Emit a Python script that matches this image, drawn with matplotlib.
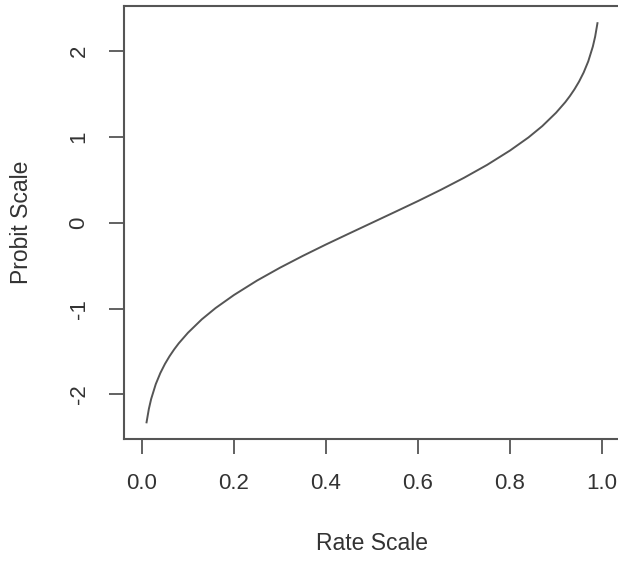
import matplotlib
matplotlib.use("Agg")
from matplotlib import pyplot as plt

# points (rate -> probit)
rate = [0.01, 0.015, 0.02, 0.03, 0.04, 0.05, 0.06, 0.07, 0.08, 0.10, 0.13,
        0.16, 0.20, 0.25, 0.30, 0.35, 0.40, 0.45, 0.50, 0.55, 0.60, 0.65,
        0.70, 0.75, 0.80, 0.84, 0.87, 0.90, 0.92, 0.93, 0.94, 0.95, 0.96,
        0.97, 0.98, 0.985, 0.99]
probit = [-2.326, -2.170, -2.054, -1.881, -1.751, -1.645, -1.555, -1.476,
          -1.405, -1.282, -1.126, -0.994, -0.842, -0.674, -0.524, -0.385,
          -0.253, -0.126, 0.0, 0.126, 0.253, 0.385, 0.524, 0.674, 0.842,
          0.994, 1.126, 1.282, 1.405, 1.476, 1.555, 1.645, 1.751, 1.881,
          2.054, 2.170, 2.326]

x_ticks = [0.0, 0.2, 0.4, 0.6, 0.8, 1.0]
x_labels = ["0.0", "0.2", "0.4", "0.6", "0.8", "1.0"]
y_ticks = [-2, -1, 0, 1, 2]
y_labels = ["-2", "-1", "0", "1", "2"]

plt.rcParams["font.family"] = ["Liberation Sans", "DejaVu Sans"]
ink = "#333333"

fig = plt.figure(figsize=(6.18, 5.61), dpi=100)
ax = fig.add_axes([124 / 618, 1 - 439 / 561, 496 / 618, 433 / 561])

ax.plot(rate, probit, color="#555555", lw=1.4)

ax.set_xlim(-0.039, 1.039)
ax.set_ylim(-2.52, 2.526)

ax.set_xticks(x_ticks)
ax.set_xticklabels(x_labels)
ax.set_yticks(y_ticks)
ax.set_yticklabels(y_labels, rotation=90, va="center")

for s in ax.spines.values():
    s.set_color("#555555")
    s.set_linewidth(1.5)

ax.tick_params(direction="out", length=10.8, width=1.3, color="#555555",
               labelsize=16, labelcolor=ink, pad=14)

ax.set_xlabel("Rate Scale", fontsize=16.5, color=ink)
ax.xaxis.set_label_coords(0.4995, (439 - 544) / 433)
ax.xaxis.label.set_va("center")
ax.set_ylabel("Probit Scale", fontsize=16.5, color=ink)
ax.yaxis.set_label_coords((22 - 124) / 496, 0.5)
ax.yaxis.label.set_va("center")

plt.savefig("out.png", dpi=100)
